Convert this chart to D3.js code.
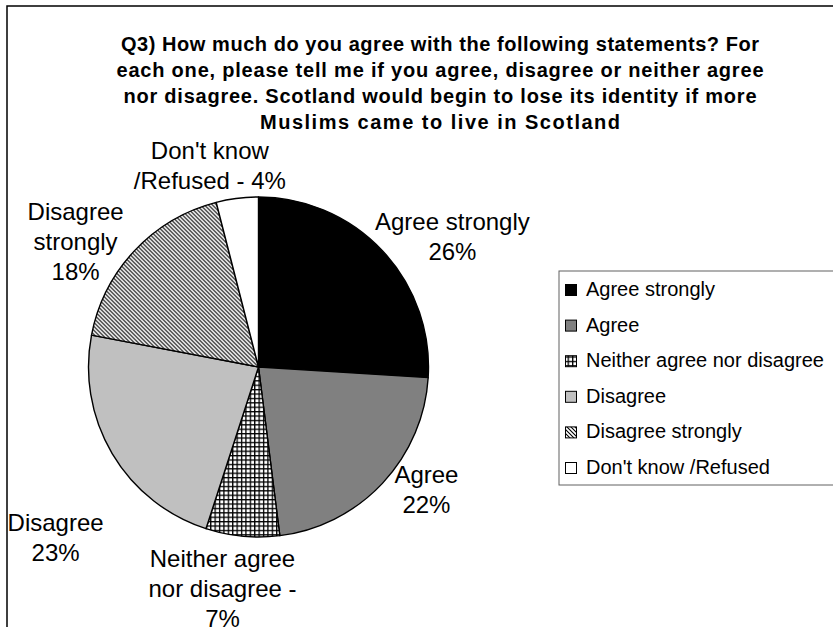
<!DOCTYPE html>
<html>
<head>
<meta charset="utf-8">
<script src="https://cdn.jsdelivr.net/npm/d3@7/dist/d3.min.js"></script>
<style>
  html, body { margin: 0; padding: 0; background: #fff; }
  svg { display: block; }
  text { font-family: "Liberation Sans", Arial, sans-serif; fill: #000; }
</style>
</head>
<body>
<svg id="chart" width="833" height="627"></svg>
<script>
// ---------- data ----------
const titleLines = [
  "Q3) How much do you agree with the following statements? For",
  "each one, please tell me if you agree, disagree or neither agree",
  "nor disagree. Scotland would begin to lose its identity if more",
  "Muslims came to live in Scotland"
];
const categories = [
  "Agree strongly",
  "Agree",
  "Neither agree nor disagree",
  "Disagree",
  "Disagree strongly",
  "Don't know /Refused"
];
const values = [26, 22, 7, 23, 18, 4];
// slice label text, {v} replaced with the value
const sliceLabels = [
  ["Agree strongly", "{v}%"],
  ["Agree", "{v}%"],
  ["Neither agree", "nor disagree -", "{v}%"],
  ["Disagree", "{v}%"],
  ["Disagree", "strongly", "{v}%"],
  ["Don't know", "/Refused - {v}%"]
];

// ---------- layout / style ----------
const W = 833, H = 627;
const cx = 258.5, cy = 367, R = 170;
const titleX = 440, titleY0 = 51, titleLH = 26, titleFont = 20;
const titleWidths = [638, 647, 633, 360];
const labelFont = 24, labelLH = 30;
const labelR = R * 1.25;
const labelNudge = [[39, 8], [13, -29], [-16, -12], [-20, 56], [-28, -2], [-22, 3]];
const fills = ["#000000", "#808080", "url(#grid)", "#C0C0C0", "url(#diag)", "#FFFFFF"];

const svg = d3.select("#chart");

// patterns
const defs = svg.append("defs");
const grid = defs.append("pattern").attr("id", "grid")
  .attr("patternUnits", "userSpaceOnUse").attr("width", 4.4).attr("height", 4.4);
grid.append("rect").attr("width", 4.4).attr("height", 4.4).attr("fill", "#fff");
grid.append("rect").attr("x", 0).attr("y", 0).attr("width", 4.4).attr("height", 1.3).attr("fill", "#000");
grid.append("rect").attr("x", 0).attr("y", 0).attr("width", 1.3).attr("height", 4.4).attr("fill", "#000");

const diag = defs.append("pattern").attr("id", "diag")
  .attr("patternUnits", "userSpaceOnUse").attr("width", 4).attr("height", 4);
diag.append("rect").attr("width", 4).attr("height", 4).attr("fill", "#fff");
diag.append("path").attr("d", "M-1,-1 L5,5 M-1,3 L1,5 M3,-1 L5,1")
  .attr("stroke", "#000").attr("stroke-width", 1.1);

// background + chart border
svg.append("rect").attr("width", W).attr("height", H).attr("fill", "#fff");
svg.append("rect").attr("x", 7).attr("y", 6).attr("width", 900).attr("height", 700)
  .attr("fill", "none").attr("stroke", "#000").attr("stroke-width", 1.5);

// title
const title = svg.append("g");
titleLines.forEach((t, i) => {
  title.append("text")
    .attr("x", titleX).attr("y", titleY0 + i * titleLH)
    .attr("text-anchor", "middle")
    .attr("font-size", titleFont).attr("font-weight", "bold")
    .attr("textLength", titleWidths[i]).attr("lengthAdjust", "spacing")
    .text(t);
});

// pie
const pie = d3.pie().sort(null).value(d => d);
const arcs = pie(values);
const arc = d3.arc().innerRadius(0).outerRadius(R);
const g = svg.append("g").attr("transform", `translate(${cx},${cy})`);
g.selectAll("path").data(arcs).join("path")
  .attr("d", arc)
  .attr("fill", (d, i) => fills[i])
  .attr("stroke", "#000").attr("stroke-width", 1.4).attr("stroke-linejoin", "round");

// slice labels
arcs.forEach((d, i) => {
  const a = (d.startAngle + d.endAngle) / 2;
  const x = cx + Math.sin(a) * labelR + labelNudge[i][0];
  const y = cy - Math.cos(a) * labelR + labelNudge[i][1];
  const t = svg.append("text").attr("text-anchor", "middle").attr("font-size", labelFont);
  sliceLabels[i].forEach((line, j) => {
    t.append("tspan").attr("x", x).attr("y", y + j * labelLH)
      .text(line.replace("{v}", values[i]));
  });
});

// legend
const lx = 559, ly = 271;
svg.append("rect").attr("x", lx).attr("y", ly).attr("width", 400).attr("height", 214)
  .attr("fill", "#fff").attr("stroke", "#606060").attr("stroke-width", 1);
const legY = d3.scalePoint().domain(categories).range([296, 474]);
categories.forEach((c, i) => {
  const y = legY(c);
  svg.append("rect").attr("x", 565.5).attr("y", y - 11.5).attr("width", 11).attr("height", 11)
    .attr("fill", fills[i]).attr("stroke", "#000").attr("stroke-width", 1);
  svg.append("text").attr("x", 586).attr("y", y).attr("font-size", 20).text(c);
});
</script>
</body>
</html>
